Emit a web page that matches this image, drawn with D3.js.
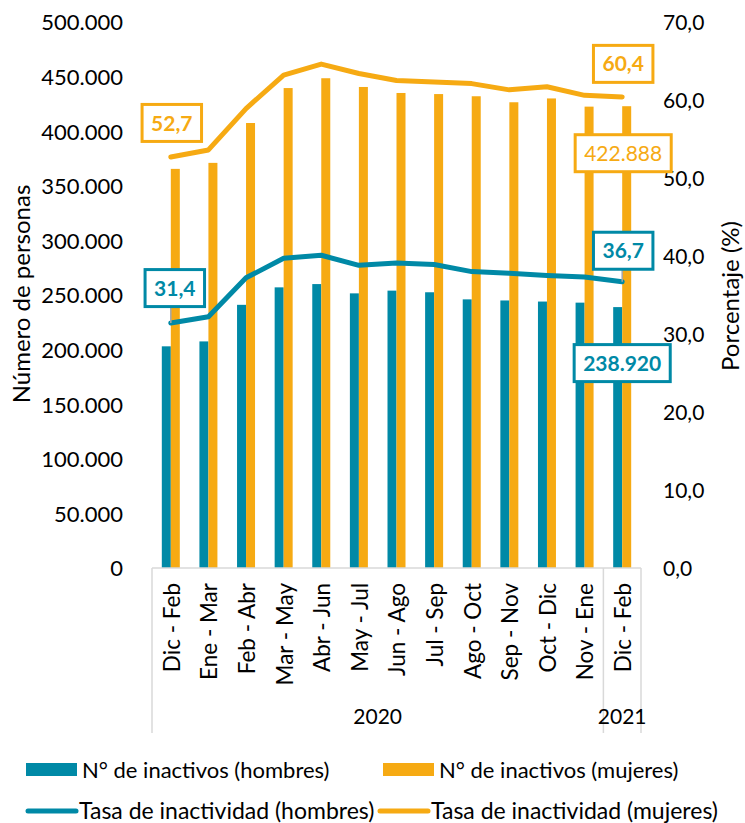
<!DOCTYPE html>
<html>
<head>
<meta charset="utf-8">
<script src="https://cdn.jsdelivr.net/npm/d3@7"></script>
<style>
  body { margin: 0; background: #fff; }
  text { font-family: Lato, "Open Sans", sans-serif; fill: #000; }
</style>
</head>
<body>
<div id="chart"></div>
<script>
// data
var periods = ["Dic - Feb", "Ene - Mar", "Feb - Abr", "Mar - May", "Abr - Jun", "May - Jul",
  "Jun - Ago", "Jul - Sep", "Ago - Oct", "Sep - Nov", "Oct - Dic", "Nov - Ene", "Dic - Feb"];
var years = ["2020", "2020", "2020", "2020", "2020", "2020", "2020", "2020", "2020", "2020", "2020", "2020", "2021"];
var inactHombres = [203000, 207500, 241000, 257000, 260000, 251500, 254000, 252500, 246000, 245000, 244000, 243000, 238920];
var inactMujeres = [365500, 371000, 407500, 439500, 448500, 440500, 435000, 434000, 432000, 426500, 430000, 422500, 422888];
var tasaHombres = [31.4, 32.2, 37.2, 39.7, 40.1, 38.8, 39.1, 38.9, 38.0, 37.8, 37.5, 37.3, 36.7];
var tasaMujeres = [52.7, 53.6, 58.9, 63.2, 64.6, 63.4, 62.5, 62.3, 62.1, 61.3, 61.7, 60.6, 60.4];
var leftTicks = [0, 50000, 100000, 150000, 200000, 250000, 300000, 350000, 400000, 450000, 500000];
var rightTicks = [0, 10, 20, 30, 40, 50, 60, 70];

var teal = "#0089a6";
var orange = "#f6aa13";

var svgWidth = 745;
var svgHeight = 823;
var plot = { left: 152, right: 641, top: 22, bottom: 568 };

var svg = d3.select("#chart")
  .append("svg")
  .attr("width", svgWidth)
  .attr("height", svgHeight);

var idx = d3.range(periods.length);

var x = d3.scaleBand()
  .domain(idx)
  .range([plot.left, plot.right])
  .padding(0);

var bw = x.bandwidth();
var x1 = d3.scaleBand()
  .domain(["h", "m"])
  .range([bw / 2 - 9, bw / 2 + 9]);

var yLeft = d3.scaleLinear().domain([0, 500000]).range([plot.bottom, plot.top]);
var yRight = d3.scaleLinear().domain([0, 70]).range([plot.bottom, plot.top]);

var fmtMiles = function(v) { return d3.format(",")(v).replace(/,/g, "."); };
var fmtPct = function(v) { return v.toFixed(1).replace(".", ","); };
var cx = function(i) { return x(i) + bw / 2; };

// axes (no lines, labels only)
var leftAxis = d3.axisLeft(yLeft).tickValues(leftTicks).tickSize(0).tickPadding(0).tickFormat(fmtMiles);
var gl = svg.append("g").attr("transform", "translate(123,0)").call(leftAxis);
gl.select(".domain").remove();
gl.selectAll("text").style("font-size", "22px").attr("dy", "0.36em");

var rightAxis = d3.axisRight(yRight).tickValues(rightTicks).tickSize(0).tickPadding(0).tickFormat(fmtPct);
var gr = svg.append("g").attr("transform", "translate(663,0)").call(rightAxis);
gr.select(".domain").remove();
gr.selectAll("text").style("font-size", "21px").attr("dy", "0.36em");

svg.append("text")
  .attr("transform", "translate(22," + 294 + ") rotate(-90)")
  .attr("text-anchor", "middle")
  .attr("dy", "0.35em")
  .style("font-size", "24px")
  .text("Número de personas");

svg.append("text")
  .attr("transform", "translate(731," + 296 + ") rotate(-90)")
  .attr("text-anchor", "middle")
  .attr("dy", "0.35em")
  .style("font-size", "24px")
  .text("Porcentaje (%)");

// bars
svg.append("g").selectAll("rect")
  .data(idx)
  .enter()
  .append("rect")
  .attr("x", d => x(d) + x1("h"))
  .attr("y", d => yLeft(inactHombres[d]))
  .attr("width", x1.bandwidth())
  .attr("height", d => plot.bottom - yLeft(inactHombres[d]))
  .attr("fill", teal);

svg.append("g").selectAll("rect")
  .data(idx)
  .enter()
  .append("rect")
  .attr("x", d => x(d) + x1("m"))
  .attr("y", d => yLeft(inactMujeres[d]))
  .attr("width", x1.bandwidth())
  .attr("height", d => plot.bottom - yLeft(inactMujeres[d]))
  .attr("fill", orange);

// category axis frame
var axisColor = "#d9d9d9";
var yearEnd = 733;
svg.append("line").attr("x1", plot.left).attr("x2", plot.right).attr("y1", plot.bottom).attr("y2", plot.bottom)
  .attr("stroke", axisColor).attr("stroke-width", 1.5);
var groupBreaks = [0, 12, 13];
svg.append("g").selectAll("line")
  .data(groupBreaks)
  .enter()
  .append("line")
  .attr("x1", d => d < periods.length ? x(d) : plot.right)
  .attr("x2", d => d < periods.length ? x(d) : plot.right)
  .attr("y1", plot.bottom)
  .attr("y2", yearEnd)
  .attr("stroke", axisColor)
  .attr("stroke-width", 1.5);

svg.append("g").selectAll("text")
  .data(idx)
  .enter()
  .append("text")
  .attr("transform", d => "translate(" + (cx(d) + 1) + ",583) rotate(-90)")
  .attr("text-anchor", "end")
  .attr("dy", "0.35em")
  .style("font-size", "22.5px")
  .text(d => periods[d]);

var yearGroups = d3.groups(idx, d => years[d]);
svg.append("g").selectAll("text")
  .data(yearGroups)
  .enter()
  .append("text")
  .attr("x", g => (x(g[1][0]) + x(g[1][g[1].length - 1]) + bw) / 2)
  .attr("y", 717)
  .attr("text-anchor", "middle")
  .attr("dy", "0.35em")
  .style("font-size", "21px")
  .text(g => g[0]);

// lines
var line = function(vals) {
  return d3.line()
    .x(d => cx(d))
    .y(d => yRight(vals[d]))(idx);
};
svg.append("path").attr("d", line(tasaMujeres))
  .attr("fill", "none").attr("stroke", orange).attr("stroke-width", 5)
  .attr("stroke-linejoin", "round").attr("stroke-linecap", "round");
svg.append("path").attr("d", line(tasaHombres))
  .attr("fill", "none").attr("stroke", teal).attr("stroke-width", 5)
  .attr("stroke-linejoin", "round").attr("stroke-linecap", "round");

// data labels
var last = periods.length - 1;
var labels = [
  { i: 0, y: yRight(tasaMujeres[0]) - 34, dx: 1, text: fmtPct(tasaMujeres[0]), color: orange, bold: true, leader: false },
  { i: 0, y: yRight(tasaHombres[0]) - 35, dx: 4, text: fmtPct(tasaHombres[0]), color: teal, bold: true, leader: true, py: yRight(tasaHombres[0]) },
  { i: last, y: yRight(tasaMujeres[last]) - 33, dx: 1, text: fmtPct(tasaMujeres[last]), color: orange, bold: true, leader: false },
  { i: last, y: yRight(tasaHombres[last]) - 31, dx: 1, text: fmtPct(tasaHombres[last]), color: teal, bold: true, leader: true, py: yRight(tasaHombres[last]) },
  { i: last, y: yLeft(inactMujeres[last]) + 47, dx: 1, text: fmtMiles(inactMujeres[last]), color: orange, bold: false, leader: false },
  { i: last, y: yLeft(inactHombres[last]) + 56, dx: 0, text: fmtMiles(inactHombres[last]), color: teal, bold: true, leader: false }
];

labels.forEach(function(l) {
  var g = svg.append("g");
  var t = g.append("text")
    .attr("x", cx(l.i) + l.dx)
    .attr("y", l.y)
    .attr("text-anchor", "middle")
    .attr("dy", "0.36em")
    .style("font-size", "21px")
    .style("font-weight", l.bold ? "bold" : "normal")
    .style("fill", l.color)
    .text(l.text);
  var bb = t.node().getBBox();
  var w = bb.width + 18, h = 37;
  if (l.leader) {
    g.insert("line", "text")
      .attr("x1", cx(l.i)).attr("x2", cx(l.i))
      .attr("y1", l.y + h / 2).attr("y2", l.py)
      .attr("stroke", "#a6a6a6").attr("stroke-width", 1.5);
  }
  g.insert("rect", "text")
    .attr("x", cx(l.i) + l.dx - w / 2)
    .attr("y", l.y - h / 2)
    .attr("width", w)
    .attr("height", h)
    .attr("fill", "#fff")
    .attr("stroke", l.color)
    .attr("stroke-width", 3);
});

// legend
var legendItems = [
  { name: "N° de inactivos (hombres)", color: teal, type: "rect", x: 26, y: 770, size: 22 },
  { name: "N° de inactivos (mujeres)", color: orange, type: "rect", x: 383, y: 770, size: 22 },
  { name: "Tasa de inactividad (hombres)", color: teal, type: "line", x: 26, y: 811, size: 23 },
  { name: "Tasa de inactividad (mujeres)", color: orange, type: "line", x: 378, y: 811, size: 23 }
];
var lg = svg.append("g").selectAll("g")
  .data(legendItems)
  .enter()
  .append("g")
  .attr("transform", d => "translate(" + d.x + "," + d.y + ")");
lg.filter(d => d.type === "rect").append("rect")
  .attr("x", 0).attr("y", -7).attr("width", 51).attr("height", 13)
  .attr("fill", d => d.color);
lg.filter(d => d.type === "line").append("line")
  .attr("x1", 2).attr("x2", 50).attr("y1", 0).attr("y2", 0)
  .attr("stroke", d => d.color).attr("stroke-width", 5).attr("stroke-linecap", "round");
lg.append("text")
  .attr("x", d => d.type === "rect" ? 56 : 53)
  .attr("y", 0)
  .attr("dy", "0.35em")
  .style("font-size", d => d.size + "px")
  .text(d => d.name);
</script>
</body>
</html>
